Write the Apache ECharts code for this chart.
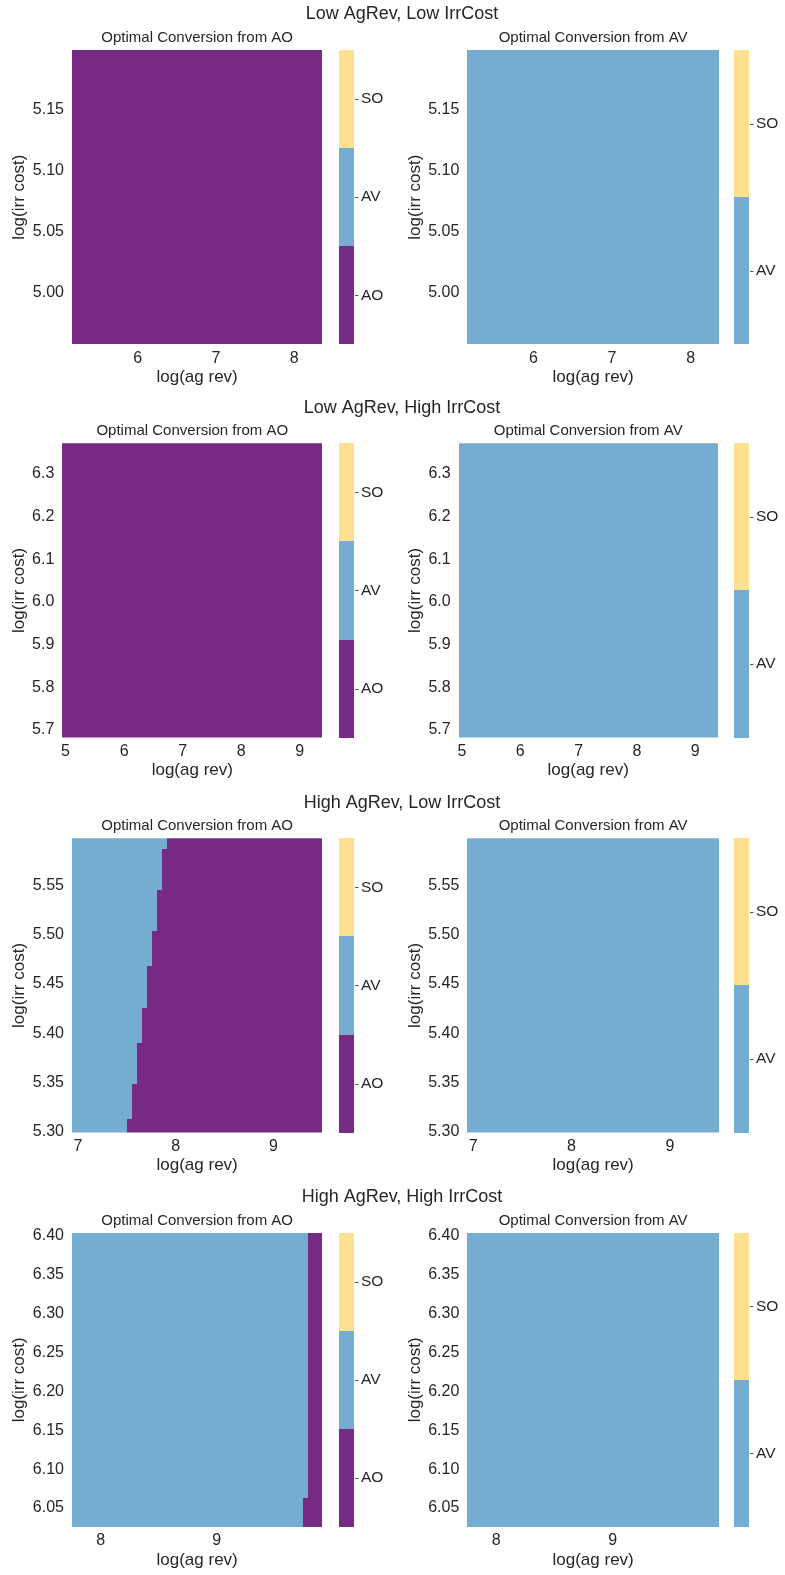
<!DOCTYPE html>
<html><head><meta charset="utf-8">
<script src="https://cdn.jsdelivr.net/npm/echarts@6/dist/echarts.min.js"></script>
<style>html,body{margin:0;padding:0;background:#fff}#c{width:785px;height:1575px}</style>
</head><body><div id="c"></div><script>
// ---------------- data ----------------
const classNames = ['AO', 'AV', 'SO'];
const classColors = ['#762a83', '#74add1', '#fee090'];

const rowTitles = ['Low AgRev, Low IrrCost', 'Low AgRev, High IrrCost', 'High AgRev, Low IrrCost', 'High AgRev, High IrrCost'];
const panelTitles = ['Optimal Conversion from AO', 'Optimal Conversion from AV'];
const xLabel = 'log(ag rev)';
const yLabel = 'log(irr cost)';

// data extents of each row (log ag rev, log irr cost)
const agRevRange = [[5.16, 8.36], [4.945, 9.385], [6.94, 9.50], [7.753, 9.91]];
const irrCostRange = [[4.958, 5.1985], [5.682, 6.372], [5.299, 5.598], [6.0256, 6.404]];

// tick labels
const agRevTicks = [[6, 7, 8], [5, 6, 7, 8, 9], [7, 8, 9], [8, 9]];
const irrCostTicks = [
  [5.00, 5.05, 5.10, 5.15],
  [5.7, 5.8, 5.9, 6.0, 6.1, 6.2, 6.3],
  [5.30, 5.35, 5.40, 5.45, 5.50, 5.55],
  [6.05, 6.10, 6.15, 6.20, 6.25, 6.30, 6.35, 6.40]
];
const irrCostDecimals = [2, 1, 2, 2];

// uniform panels: class index of the whole field
const uniformFromAO = [0, 0, null, null]; // rows 1-2 all AO
const uniformFromAV = [1, 1, 1, 1];       // all AV

// High AgRev, Low IrrCost, from AO: AV left of the switch point, AO right of it
const hlIrrEdges = [5.299, 5.313, 5.348, 5.390, 5.426, 5.468, 5.504, 5.545, 5.587, 5.598];
const hlSwitchAgRev = [7.507, 7.558, 7.609, 7.660, 7.711, 7.762, 7.813, 7.864, 7.915];
// High AgRev, High IrrCost, from AO
const hhIrrEdges = [6.0256, 6.0634, 6.404];
const hhSwitchAgRev = [9.747, 9.790];

const colorbarFromAO = ['AO', 'AV', 'SO'];
const colorbarFromAV = ['AV', 'SO'];

// ---------------- build ----------------
function stepRegions(row, edges, switches) {
  const out = [];
  const xr = agRevRange[row];
  for (let i = 0; i < switches.length; i++) {
    out.push([xr[0], switches[i], edges[i], edges[i + 1], 1]);
    out.push([switches[i], xr[1], edges[i], edges[i + 1], 0]);
  }
  return out;
}
function uniform(row, cls) {
  return [[agRevRange[row][0], agRevRange[row][1], irrCostRange[row][0], irrCostRange[row][1], cls]];
}
const panelRegions = [
  [uniform(0, uniformFromAO[0]), uniform(0, uniformFromAV[0])],
  [uniform(1, uniformFromAO[1]), uniform(1, uniformFromAV[1])],
  [stepRegions(2, hlIrrEdges, hlSwitchAgRev), uniform(2, uniformFromAV[2])],
  [stepRegions(3, hhIrrEdges, hhSwitchAgRev), uniform(3, uniformFromAV[3])]
];

// layout
const FONT = "'Liberation Sans', Arial, sans-serif";
const TXT = '#262626';
const rowTop = [50, 443.3, 838.3, 1232.7];
const plotH = 294.3;
const plotL = [[72, 467.3], [62.3, 458.7], [72, 467.3], [72, 467.3]];
const plotR = [[322.3, 719], [322.3, 717.7], [322.3, 719], [322.3, 719]];
const cbL = [339, 734], cbW = 15;
const yNameCenter = [19, 415.5];
const rowTitleY = [14.5, 408.3, 803.3, 1196.7];

const grid = [], xAxis = [], yAxis = [], series = [], graphic = [];

function renderRect(params, api) {
  const a = api.coord([api.value(0), api.value(3)]);
  const b = api.coord([api.value(1), api.value(2)]);
  const x0 = Math.round(a[0]), y0 = Math.round(a[1]);
  const x1 = Math.round(b[0]), y1 = Math.round(b[1]);
  return {
    type: 'rect',
    shape: { x: x0, y: y0, width: x1 - x0, height: y1 - y0 },
    style: { fill: classColors[api.value(4)] }
  };
}
// colorbar tick mark at the right edge, pointing outwards
function renderTick(params, api) {
  const p = api.coord([api.value(0), api.value(1)]);
  const x = Math.round(p[0]) + 1, y = Math.round(p[1]) + 0.5;
  return { type: 'line', shape: { x1: x, y1: y, x2: x + 3.5, y2: y }, style: { stroke: '#555', lineWidth: 1 } };
}

for (let r = 0; r < 4; r++) {
  graphic.push({
    type: 'text', x: 402, y: rowTitleY[r],
    style: { text: rowTitles[r], fill: TXT, font: '18px ' + FONT, textAlign: 'center', textVerticalAlign: 'middle' }
  });
  for (let c = 0; c < 2; c++) {
    const gi = grid.length;
    const L = plotL[r][c], R = plotR[r][c];
    grid.push({ left: L, top: rowTop[r], width: R - L, height: plotH, containLabel: false });
    const dec = irrCostDecimals[r];
    xAxis.push({
      type: 'value', gridIndex: gi, min: agRevRange[r][0], max: agRevRange[r][1],
      axisLine: { show: false }, axisTick: { show: false }, splitLine: { show: false },
      axisLabel: { customValues: agRevTicks[r], formatter: v => String(Math.round(v)), color: TXT, fontSize: 16, fontFamily: FONT, margin: 6 },
      name: xLabel, nameLocation: 'middle', nameGap: 24.5,
      nameTextStyle: { color: TXT, fontSize: 17, fontFamily: FONT }
    });
    yAxis.push({
      type: 'value', gridIndex: gi, min: irrCostRange[r][0], max: irrCostRange[r][1],
      axisLine: { show: false }, axisTick: { show: false }, splitLine: { show: false },
      axisLabel: { customValues: irrCostTicks[r], formatter: v => v.toFixed(dec), color: TXT, fontSize: 16, fontFamily: FONT, margin: 8 },
      name: yLabel, nameLocation: 'middle', nameGap: L - yNameCenter[c] - 8.5,
      nameTextStyle: { color: TXT, fontSize: 17, fontFamily: FONT }
    });
    series.push({
      type: 'custom', xAxisIndex: gi, yAxisIndex: gi, renderItem: renderRect,
      encode: { x: [0, 1], y: [2, 3] }, data: panelRegions[r][c], clip: true, silent: true
    });
    graphic.push({
      type: 'text', x: (L + R) / 2, y: rowTop[r] - 12.2,
      style: { text: panelTitles[c], fill: TXT, font: '15px ' + FONT, textAlign: 'center', textVerticalAlign: 'middle' }
    });
    // colorbar: value axis 0..n, one unit per class
    const cats = c === 0 ? colorbarFromAO : colorbarFromAV;
    const centers = cats.map((n, i) => i + 0.5);
    const ci = grid.length;
    grid.push({ left: cbL[c], top: rowTop[r], width: cbW, height: plotH });
    xAxis.push({ type: 'value', gridIndex: ci, min: 0, max: 1, show: false });
    yAxis.push({
      type: 'value', gridIndex: ci, min: 0, max: cats.length, position: 'right',
      axisLine: { show: false }, axisTick: { show: false },
      axisLabel: { customValues: centers, formatter: v => cats[Math.floor(v)], color: TXT, fontSize: 15.5, fontFamily: FONT, margin: 7 },
      splitLine: { show: false }
    });
    series.push({
      type: 'custom', xAxisIndex: ci, yAxisIndex: ci, renderItem: renderRect, silent: true,
      encode: { x: [0, 1], y: [2, 3] },
      data: cats.map((n, i) => [0, 1, i, i + 1, classNames.indexOf(n)])
    });
    series.push({
      type: 'custom', xAxisIndex: ci, yAxisIndex: ci, renderItem: renderTick, silent: true, clip: false,
      encode: { x: 0, y: 1 },
      data: centers.map(v => [1, v])
    });
  }
}

const chart = echarts.init(document.getElementById('c'), null, { renderer: 'canvas' });
chart.setOption({ backgroundColor: '#fff', animation: false, grid, xAxis, yAxis, series, graphic });
</script></body></html>
